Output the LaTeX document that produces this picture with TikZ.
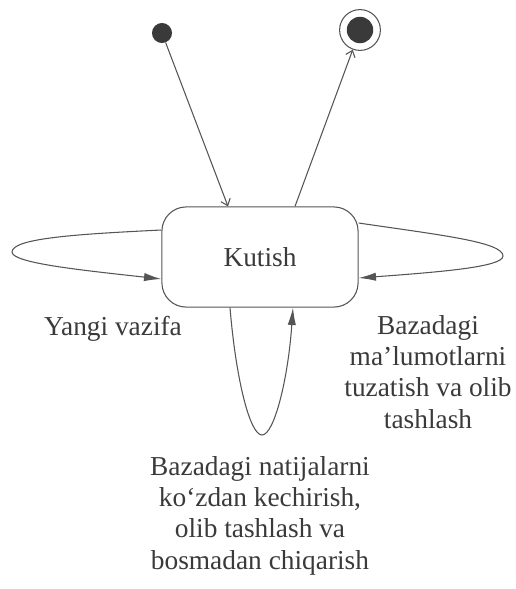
\documentclass[tikz,border=0pt]{standalone}
\usepackage{fontspec}
\setmainfont{Liberation Serif}
\usepackage{tikz}
\usetikzlibrary{arrows.meta,calc,positioning}
\definecolor{ink}{HTML}{3A3A3A}
\definecolor{wire}{HTML}{555555}
\tikzset{
  state/.style={
    shape = rectangle,
    draw = wire,
    line width = 0.8pt,
    rounded corners = 0.64cm,
    minimum width = 5.19cm,
    minimum height = 2.65cm,
    text = ink
  },
  startdot/.style={
    shape = circle,
    fill = ink,
    inner sep = 0pt,
    minimum size = 0.53cm
  },
  endring/.style={
    shape = circle,
    draw = wire,
    line width = 0.8pt,
    inner sep = 0pt,
    minimum size = 1.08cm
  },
  endcore/.style={
    shape = circle,
    fill = ink,
    inner sep = 0pt,
    minimum size = 0.7cm
  },
  trans/.style={
    draw = wire,
    line width = 0.8pt,
    -{Straight Barb[length=1.6mm,width=2.6mm]}
  },
  loopy/.style={
    draw = wire,
    line width = 0.8pt,
    -{Latex[length=4.6mm,width=2.2mm]}
  },
  lbl/.style={
    anchor = base,
    align = center,
    inner sep = 0pt,
    text = ink
  },
  every picture/.style = {
    font=\fontsize{20.6}{23.4}\selectfont
  }
}

\begin{document}
\begin{tikzpicture}[x=0.02646cm, y=-0.02646cm]
        \useasboundingbox (0,0) rectangle (515,589);

        \node[state] (wait) at (260,257) {Kutish};
        \node[startdot] (start) at (162,33) {};
        \node[endring] (stop) at (360,30) {};
        \node[endcore] (stopcore) at (360,30) {};

        \draw[trans] (start) -- ($(wait.north)+(-32,0)$);
        \draw[trans] ($(wait.north)+(35,0)$) -- (stop);

        \draw[loopy] ($(wait.west)+(0,-27)$) .. controls (80,234) and (12,238) .. (12,252)
            .. controls (12,263) and (80,270) .. ($(wait.west)+(0,22)$);
        \draw[loopy] ($(wait.east)+(0,-34)$) .. controls (440,235) and (503,242) .. (503,256)
            .. controls (503,267) and (440,272) .. ($(wait.east)+(0,21)$);
        \draw[loopy] ($(wait.south)+(-30,0)$) .. controls (236,380) and (250,435) .. (262,435)
            .. controls (274,435) and (288,380) .. ($(wait.south)+(33,0)$);

        % base of a multi-line label is its last line
        \node[lbl] (newtask) at (113,335) {Yangi vazifa};
        \node[lbl] (editdb) at (428,428) {Bazadagi\\ma'lumotlarni\\tuzatish va olib\\tashlash};
        \node[lbl] (viewres) at (260,569) {Bazadagi natijalarni\\ko`zdan kechirish,\\olib tashlash va\\bosmadan chiqarish};

\end{tikzpicture}
\end{document}
